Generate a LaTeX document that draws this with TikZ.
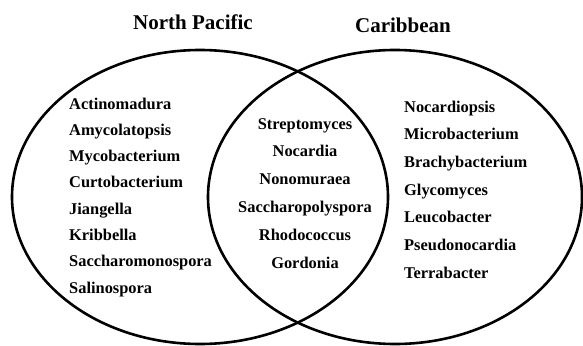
\documentclass[tikz,border=0pt]{standalone}
\usepackage{fontspec}
\setmainfont{Liberation Serif}
\usetikzlibrary{positioning}

\begin{document}
\begin{tikzpicture}[
  x=1pt, y=-1pt,
  region/.style = {line width=2.6pt, draw=black},
  title/.style = {font=\fontsize{21}{24}\selectfont\bfseries, inner sep=0pt},
  genus/.style = {
    font=\fontsize{16.4}{18}\selectfont\bfseries, inner sep=0pt,
    text height=12pt, text depth=4pt,
  },
]
  \useasboundingbox (0,0) rectangle (583,345);

  % the two sites
  \draw[region] (200,197) ellipse [x radius=188, y radius=147];
  \draw[region] (395,197) ellipse [x radius=187, y radius=147];

  \node[title] (np) at (193,22) {North Pacific};
  \node[title] (cb) at (403,25) {Caribbean};

  % North Pacific only
  \node[genus, anchor=west] (actino) at (69,105) {Actinomadura};
  \node[genus, below=9.9pt of actino.south west, anchor=north west] (amyco) {Amycolatopsis};
  \node[genus, below=9.9pt of amyco.south west, anchor=north west] (myco) {Mycobacterium};
  \node[genus, below=9.9pt of myco.south west, anchor=north west] (curto) {Curtobacterium};
  \node[genus, below=9.9pt of curto.south west, anchor=north west] (jiang) {Jiangella};
  \node[genus, below=9.9pt of jiang.south west, anchor=north west] (krib) {Kribbella};
  \node[genus, below=9.9pt of krib.south west, anchor=north west] (sacmono) {Saccharomonospora};
  \node[genus, below=9.9pt of sacmono.south west, anchor=north west] (salino) {Salinospora};

  % shared
  \node[genus] (strep) at (305,125) {Streptomyces};
  \node[genus, below=11.4pt of strep] (nocard) {Nocardia};
  \node[genus, below=11.4pt of nocard] (nonom) {Nonomuraea};
  \node[genus, below=11.4pt of nonom] (sacpoly) {Saccharopolyspora};
  \node[genus, below=11.4pt of sacpoly] (rhodo) {Rhodococcus};
  \node[genus, below=11.4pt of rhodo] (gord) {Gordonia};

  % Caribbean only
  \node[genus, anchor=west] (nocps) at (404,108) {Nocardiopsis};
  \node[genus, below=11.3pt of nocps.south west, anchor=north west] (micro) {Microbacterium};
  \node[genus, below=11.3pt of micro.south west, anchor=north west] (brachy) {Brachybacterium};
  \node[genus, below=11.3pt of brachy.south west, anchor=north west] (glyco) {Glycomyces};
  \node[genus, below=11.3pt of glyco.south west, anchor=north west] (leuco) {Leucobacter};
  \node[genus, below=11.3pt of leuco.south west, anchor=north west] (pseudo) {Pseudonocardia};
  \node[genus, below=11.3pt of pseudo.south west, anchor=north west] (terra) {Terrabacter};
\end{tikzpicture}
\end{document}
